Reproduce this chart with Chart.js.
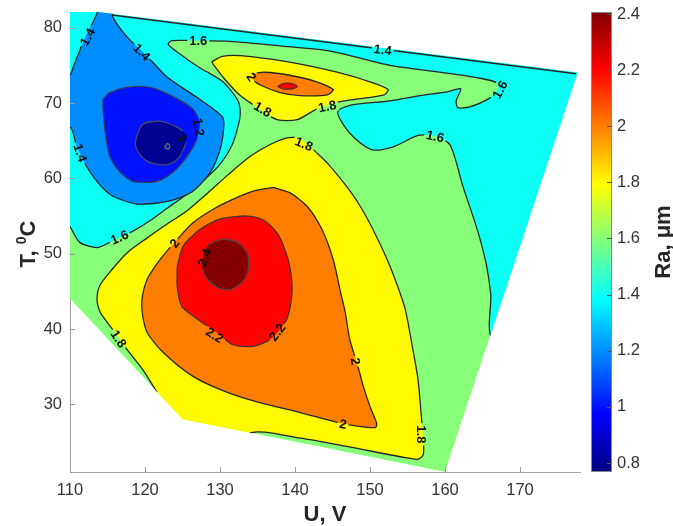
<!DOCTYPE html>
<html>
<head>
<meta charset="utf-8">
<script src="https://cdn.jsdelivr.net/npm/chart.js@4.4.1/dist/chart.umd.min.js"></script>
<style>
  html, body { margin: 0; padding: 0; background: #fff; }
</style>
</head>
<body>
<canvas id="grafico" width="673" height="526"></canvas>
<script>
// Ra contour levels and colour limits (jet colormap)
const levels = [0.8, 1.0, 1.2, 1.4, 1.6, 1.8, 2.0, 2.2, 2.4]
const raMin = 0.768
const raMax = 2.407

const uTicks = [110, 120, 130, 140, 150, 160, 170]
const tTicks = [30, 40, 50, 60, 70, 80]

// measured domain (U, T)
const hull = [[110, 82.55], [177.7, 74.05], [160, 21], [125, 28], [110, 44]]

// contour bands, [U, T] points; points past the hull get clipped away
const band14 = [[110, 53.6], [111.3, 51.5], [113.6, 50.8], [115.3, 51.5], [118.4, 53.0], [120.7, 54.4], [122.9, 56.0], [125.3, 57.7], [128.0, 59.9], [130.1, 62.0], [131.6, 64.4], [132.4, 66.9], [132.7, 68.8], [132.3, 70.5], [130.3, 72.9], [127.3, 74.7], [124.7, 76.5], [123.1, 77.8], [123.6, 78.3], [126.7, 78.3], [131.3, 78.2], [138.0, 77.6], [144.7, 76.9], [152.7, 75.0], [159.3, 74.1], [164.7, 73.3], [166.9, 72.7], [167.1, 71.9], [166.0, 70.7], [163.3, 69.5], [161.7, 69.4], [161.5, 70.3], [162.1, 71.9], [160.3, 71.5], [156.7, 71.0], [152.7, 70.3], [147.3, 69.7], [145.7, 68.9], [146.4, 67.2], [148.0, 65.3], [150.3, 63.8], [153.1, 64.2], [156.4, 65.7], [158.8, 65.6], [160.7, 64.4], [162.4, 58.9], [164.3, 53.2], [165.5, 48.6], [166.1, 44.6], [166.5, 38.6], [185, 38.6], [185, 90], [105, 90], [105, 53.6], [110, 53.6]]
const band12 = [[113.9, 84], [115.6, 84], [115.7, 81.5], [117.6, 78.8], [120.3, 76.2], [122.9, 73.5], [127.3, 70.5], [130.3, 68.2], [130.5, 66.8], [130.0, 63.8], [128.7, 60.8], [126.4, 58.3], [123.3, 57.0], [118.9, 56.6], [115.3, 57.9], [112.7, 60.8], [110.9, 64.2], [110.0, 66.8], [105, 66.8], [105, 73.8], [110.0, 73.8], [110.4, 74.7], [112.0, 78.7], [112.9, 80.4], [113.7, 82.2], [113.9, 84]]
const band10 = [[114.4, 70.5], [115.3, 71.4], [117.6, 72.1], [120.7, 72.1], [123.7, 70.9], [126.4, 69.2], [127.3, 67.4], [126.9, 65.2], [125.6, 62.9], [123.7, 60.8], [121.6, 59.6], [118.4, 59.6], [116.7, 60.8], [115.3, 62.9], [114.7, 66.1], [114.4, 69.2], [114.4, 70.5]]
const band08 = [[118.9, 65.6], [119.7, 67.2], [122.0, 67.6], [124.3, 66.8], [125.6, 65.6], [125.1, 63.8], [124.3, 62.5], [122.9, 61.8], [120.7, 62.1], [119.3, 63.2], [118.7, 64.5], [118.9, 65.6]]
const band08core = [[122.6, 64.2], [123.0, 64.6], [123.3, 64.2], [123.0, 63.9], [122.6, 64.2]]
const band18top = [[128.9, 75.5], [130.3, 76.2], [132.7, 76.3], [138.9, 75.5], [145.6, 74.1], [150.4, 72.7], [152.4, 71.8], [151.9, 71.1], [146.0, 70.2], [142.9, 69.2], [140.3, 67.8], [137.6, 67.8], [135.3, 69.2], [132.7, 71.0], [130.7, 73.1], [129.2, 75.0], [128.9, 75.5]]
const band20top = [[134.4, 73.9], [136.0, 74.1], [139.3, 73.7], [142.7, 72.9], [145.1, 71.8], [144.3, 71.1], [140.7, 71.0], [138.0, 71.4], [135.6, 72.3], [134.4, 73.1], [134.4, 73.9]]
const band22top = [[137.7, 72.2], [138.4, 72.6], [139.6, 72.6], [140.3, 72.2], [139.6, 71.9], [138.4, 71.9], [137.7, 72.2]]
const band18 = [[121.6, 31.6], [119.7, 34.6], [117.6, 37.3], [116.0, 39.5], [114.8, 41.1], [114.0, 42.3], [113.6, 43.9], [114.0, 45.8], [115.6, 47.9], [117.7, 50.2], [120.3, 52.1], [122.9, 53.9], [125.6, 55.7], [128.3, 58.0], [131.1, 60.5], [134.0, 62.9], [136.7, 64.5], [139.1, 65.4], [140.7, 65.3], [143.1, 63.2], [144.7, 61.6], [146.9, 58.9], [148.7, 56.3], [150.4, 53.2], [152.3, 49.2], [153.6, 45.9], [154.7, 42.6], [155.6, 37.9], [156.4, 33.3], [156.8, 28.9], [157.1, 25.3], [157.1, 23.3], [156.4, 22.7], [154.7, 22.9], [146.9, 24.4], [140.7, 25.5], [133.9, 26.1], [133.9, 20], [118, 20], [118, 31.6], [121.6, 31.6]]
const band20 = [[137.1, 58.8], [134.4, 58.3], [131.7, 57.2], [129.1, 55.9], [126.4, 54.1], [124.3, 51.9], [122.0, 49.2], [120.3, 46.6], [119.6, 43.9], [119.7, 41.7], [120.3, 39.5], [122.4, 36.9], [126.4, 33.7], [130.9, 31.6], [135.3, 30.2], [140.7, 28.9], [145.6, 27.6], [148.3, 27.1], [150.7, 26.9], [150.9, 27.4], [150.0, 29.7], [149.1, 32.4], [148.4, 35.0], [147.3, 38.6], [146.7, 42.2], [146.0, 45.2], [145.1, 49.2], [143.6, 53.2], [141.6, 56.3], [139.3, 58.1], [137.1, 58.8]]
const band22 = [[124.3, 48.3], [124.3, 45.6], [124.9, 43.0], [126.6, 41.6], [129.6, 39.5], [131.7, 37.9], [134.4, 37.7], [136.7, 38.6], [138.9, 41.3], [139.6, 44.8], [139.3, 48.3], [138.4, 51.2], [137.5, 52.9], [135.7, 54.5], [133.6, 55.0], [130.0, 54.6], [127.3, 53.2], [125.1, 51.0], [124.3, 48.3]]
const band24 = [[127.7, 49.5], [128.4, 51.1], [130.3, 51.9], [132.4, 51.5], [133.7, 49.9], [133.7, 47.6], [132.9, 46.2], [131.3, 45.2], [129.7, 45.5], [128.3, 46.6], [127.6, 48.2], [127.7, 49.5]]
// 1.4 line running along the upper edge
const edge14 = [[115.6, 81.7], [177.5, 73.9]]

// clabel texts: [text, U, T, angle in degrees]
const contourLabels = [
    ['1.4', 112.3, 78.8, -62], ['1.4', 119.6, 76.8, 45], ['1.6', 127.1, 78.3, 0],
    ['1.4', 151.7, 77.1, 7], ['1.2', 127.2, 66.8, 80], ['1', 125.0, 65.4, 60],
    ['1.4', 111.4, 63.4, 72], ['2', 134.2, 73.5, 55], ['1.8', 135.7, 69.2, 30],
    ['1.8', 144.3, 69.6, -12], ['1.6', 167.3, 71.8, -62], ['1.6', 158.7, 65.6, 12],
    ['1.8', 141.2, 64.6, 22], ['1.6', 116.6, 52.2, -24], ['2', 123.9, 51.4, -52],
    ['2.4', 127.9, 49.5, -70], ['2.2', 129.3, 39.2, 32], ['2.2', 137.6, 39.6, -52],
    ['1.8', 116.5, 38.7, 56], ['2', 148.1, 35.7, 80], ['2', 146.4, 27.4, 10],
    ['1.8', 156.9, 26.0, 90]
]

const fontFam = "'Liberation Sans', Arial, sans-serif"
const labelFont = `bold 13px ${fontFam}`
const titleFont = `bold 22px ${fontFam}`
const lineColor = '#262626'

const jet = (f) => {
    const c = (v) => Math.round(255 * Math.min(1, Math.max(0, v)))
    return `rgb(${c(1.5 - Math.abs(4 * f - 3))},${c(1.5 - Math.abs(4 * f - 2))},${c(1.5 - Math.abs(4 * f - 1))})`
}
const levelColor = (lv) => jet((lv - raMin) / (raMax - raMin))

const region = (pts, lv, extra = {}) => ({
    data: pts.map(([u, t]) => ({ x: u, y: t })),
    showLine: true,
    fill: 'shape',
    backgroundColor: levelColor(lv),
    borderColor: lineColor,
    borderWidth: 1.3,
    pointRadius: 0,
    tension: 0.25,
    ...extra
})

// bottom layer first
const layers = [
    region(hull, 1.6, { borderWidth: 0, borderColor: 'rgba(0,0,0,0)', tension: 0 }),
    region(band14, 1.4),
    region(band12, 1.2),
    region(band10, 1.0, { borderColor: '#3a3a5a' }),
    region(band08, 0.8, { borderColor: '#4a4a6a' }),
    region(band08core, 0.8, { borderColor: '#6a6a7a', tension: 0.5 }),
    region(band18top, 1.8),
    region(band20top, 2.0),
    region(band22top, 2.2, { borderColor: '#5a2a2a' }),
    region(band18, 1.8),
    region(band20, 2.0),
    region(band22, 2.2, { borderColor: '#4a3030' }),
    region(band24, 2.4, { borderColor: '#5a4040' }),
    region(edge14, 1.4, { fill: false, tension: 0 })
]
// chart.js paints the last dataset first
const datasets = layers.slice().reverse()

const toPx = (chart, u, t) => [chart.scales.x.getPixelForValue(u), chart.scales.y.getPixelForValue(t)]

const contourPlugin = {
    id: 'contourPlugin',
    beforeDatasetsDraw(chart) {
        const ctx = chart.ctx
        ctx.save()
        ctx.beginPath()
        hull.forEach(([u, t], i) => {
            const [x, y] = toPx(chart, u, t)
            i ? ctx.lineTo(x, y) : ctx.moveTo(x, y)
        })
        ctx.closePath()
        ctx.clip()
    },
    // runs after the filler, so only the contour line is cut under the labels
    beforeDatasetDraw(chart, args) {
        const ds = chart.data.datasets[args.index]
        if (!ds.borderWidth) return
        const ctx = chart.ctx
        ctx.save()
        ctx.font = labelFont
        ctx.beginPath()
        ctx.rect(0, 0, chart.width, chart.height)
        contourLabels.forEach(([txt, u, t, rot]) => {
            const [x, y] = toPx(chart, u, t)
            const w = ctx.measureText(txt).width / 2 + 2, h = 6.5
            const a = rot * Math.PI / 180, c = Math.cos(a), s = Math.sin(a)
            const pts = [[-w, -h], [w, -h], [w, h], [-w, h]].map(([dx, dy]) => [x + dx * c - dy * s, y + dx * s + dy * c])
            ctx.moveTo(pts[0][0], pts[0][1])
            pts.slice(1).forEach(p => ctx.lineTo(p[0], p[1]))
            ctx.closePath()
        })
        ctx.clip('evenodd')
    },
    afterDatasetDraw(chart, args) {
        if (chart.data.datasets[args.index].borderWidth) chart.ctx.restore()
    },
    afterDatasetsDraw(chart) {
        const ctx = chart.ctx
        ctx.restore()
        ctx.save()
        ctx.font = labelFont
        ctx.fillStyle = '#111'
        ctx.textAlign = 'center'
        ctx.textBaseline = 'middle'
        contourLabels.forEach(([txt, u, t, rot]) => {
            const [x, y] = toPx(chart, u, t)
            ctx.save()
            ctx.translate(x, y)
            ctx.rotate(rot * Math.PI / 180)
            ctx.fillText(txt, 0, 1)
            ctx.restore()
        })
        ctx.restore()
    },
    afterDraw(chart) {
        const { ctx, chartArea: a, scales: { x, y, cb } } = chart
        ctx.save()
        // inward tick marks
        ctx.strokeStyle = '#9a9a9a'
        ctx.lineWidth = 1
        ctx.beginPath()
        uTicks.forEach(v => {
            const p = Math.round(x.getPixelForValue(v)) + 0.5
            ctx.moveTo(p, a.bottom); ctx.lineTo(p, a.bottom - 5)
        })
        tTicks.forEach(v => {
            const p = Math.round(y.getPixelForValue(v)) + 0.5
            ctx.moveTo(a.left, p); ctx.lineTo(a.left + 5, p)
        })
        ctx.stroke()

        // colorbar
        const left = cb.left + 11, w = 21
        const top = cb.getPixelForValue(raMax), bot = cb.getPixelForValue(raMin)
        const g = ctx.createLinearGradient(0, bot, 0, top)
        for (let i = 0; i <= 64; i++) g.addColorStop(i / 64, jet(i / 64))
        ctx.fillStyle = g
        ctx.fillRect(left, top, w, bot - top)
        ctx.strokeStyle = '#8a8a8a'
        ctx.strokeRect(left + 0.5, top + 0.5, w - 1, bot - top - 1)
        ctx.strokeStyle = '#555'
        ctx.beginPath()
        levels.forEach(v => {
            const p = Math.round(cb.getPixelForValue(v)) + 0.5
            ctx.moveTo(left + w - 5, p); ctx.lineTo(left + w, p)
        })
        ctx.stroke()

        // axis titles
        ctx.fillStyle = '#262626'
        ctx.font = titleFont
        ctx.textBaseline = 'alphabetic'
        ctx.textAlign = 'center'
        ctx.fillText('U, V', (a.left + a.right) / 2, 521)

        ctx.save()
        ctx.translate(670, (a.top + a.bottom) / 2)
        ctx.rotate(-Math.PI / 2)
        ctx.fillText('Ra, μm', 0, 0)
        ctx.restore()

        // T, then a raised 0, then C
        ctx.save()
        ctx.translate(35, 244)
        ctx.rotate(-Math.PI / 2)
        ctx.textAlign = 'left'
        const supFont = `bold 14px ${fontFam}`
        const w1 = ctx.measureText('T, ').width, w3 = ctx.measureText('C').width
        ctx.font = supFont
        const w2 = ctx.measureText('0').width
        let cx = -(w1 + w2 + w3) / 2
        ctx.font = titleFont
        ctx.fillText('T, ', cx, 0)
        cx += w1
        ctx.font = supFont
        ctx.fillText('0', cx, -9)
        cx += w2
        ctx.font = titleFont
        ctx.fillText('C', cx, 0)
        ctx.restore()

        ctx.restore()
    }
}

const tickFont = { family: fontFam, size: 16.5 }
// label offsets come from tickLength (tick marks themselves stay hidden),
// so they don't add to the layout padding
const hiddenGrid = (len) => ({ display: false, drawTicks: true, tickLength: len })

new Chart(document.getElementById('grafico'), {
    type: 'scatter',
    data: { datasets },
    options: {
        responsive: false,
        animation: false,
        events: [],
        layout: { padding: { top: 12, left: 0, right: 0, bottom: 0 } },
        plugins: { legend: { display: false }, tooltip: { enabled: false } },
        scales: {
            x: {
                type: 'linear', min: 110, max: 178,
                afterBuildTicks: (s) => { s.ticks = uTicks.map(v => ({ value: v })) },
                afterFit: (s) => { s.height = 54 },
                grid: hiddenGrid(9),
                border: { color: '#a0a0a0', width: 1 },
                ticks: { color: '#333', font: tickFont, padding: 0, maxRotation: 0, autoSkip: false }
            },
            y: {
                type: 'linear', position: 'left', min: 21, max: 82.1,
                afterBuildTicks: (s) => { s.ticks = tTicks.map(v => ({ value: v })) },
                afterFit: (s) => { s.width = 70 },
                grid: hiddenGrid(8),
                border: { color: '#a0a0a0', width: 1 },
                ticks: { color: '#333', font: tickFont, padding: 0, autoSkip: false }
            },
            cb: {
                type: 'linear', position: 'right', min: raMin, max: raMax,
                afterBuildTicks: (s) => { s.ticks = levels.map(v => ({ value: v })) },
                afterFit: (s) => { s.width = 93 },
                grid: hiddenGrid(37),
                border: { display: false },
                ticks: { color: '#333', font: tickFont, padding: 0, autoSkip: false, callback: (v) => String(Number(v.toFixed(1))) }
            }
        }
    },
    plugins: [contourPlugin]
})
</script>
</body>
</html>
